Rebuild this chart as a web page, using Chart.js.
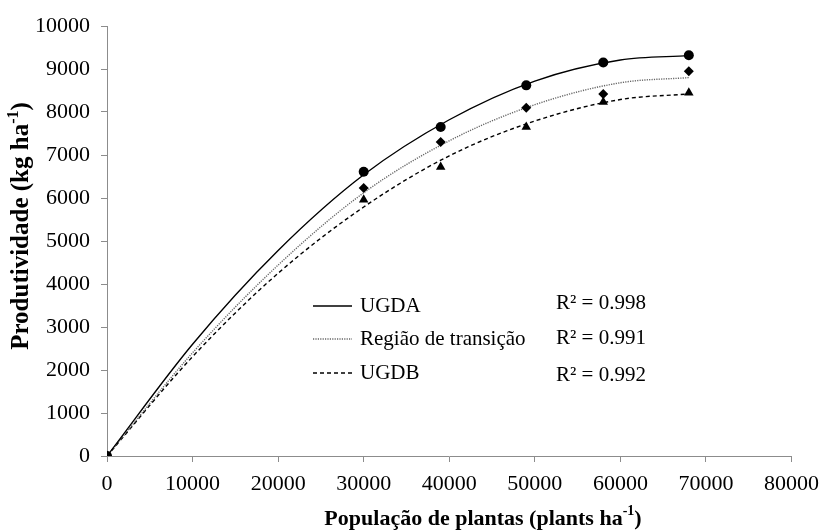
<!DOCTYPE html>
<html>
<head>
<meta charset="utf-8">
<script src="https://cdn.jsdelivr.net/npm/chart.js@4/dist/chart.umd.min.js"></script>
<style>
  html, body { margin: 0; padding: 0; background: #ffffff; }
  #wrap { width: 828px; height: 532px; }
</style>
</head>
<body>
<div id="wrap"><canvas id="c" width="828" height="532"></canvas></div>
<script>
// ---------- data ----------
const popX = [0, 30000, 39000, 49000, 58000, 68000];
const ugdaY = [0, 6610, 7650, 8620, 9150, 9320];
const transY = [0, 6230, 7300, 8100, 8420, 8950];
const ugdbY = [0, 5960, 6720, 7650, 8230, 8450];

// trend-line values
const curveX = [0, 10000, 20000, 30000, 40000, 50000, 60000, 68000];
const ugdaCurve = [0, 2600, 4780, 6540, 7820, 8720, 9210, 9310];
const transCurve = [0, 2400, 4440, 6120, 7330, 8170, 8680, 8800];
const ugdbCurve = [0, 2310, 4250, 5790, 6980, 7790, 8290, 8420];

const seriesLabels = ['UGDA', 'Região de transição', 'UGDB'];
const r2Labels = ['R² = 0.998', 'R² = 0.991', 'R² = 0.992'];

const xTickValues = [0, 10000, 20000, 30000, 40000, 50000, 60000, 70000, 80000];
const yTickValues = [0, 1000, 2000, 3000, 4000, 5000, 6000, 7000, 8000, 9000, 10000];

const xTitleParts = [{t: 'População de plantas (plants ha'}, {t: '-1', sup: true}, {t: ')'}];
const yTitleParts = [{t: 'Produtividade (kg ha'}, {t: '-1', sup: true}, {t: ')'}];

// ---------- helpers ----------
const pts = (xs, ys) => xs.map((x, i) => ({x: x, y: ys[i]}));
const FONT = "'Liberation Serif', 'Times New Roman', serif";
const AXIS_COLOR = '#8c8c8c';

function drawParts(ctx, parts, cx, cy, size, bold) {
  const w = bold ? 'bold ' : '';
  let total = 0;
  const widths = parts.map(p => {
    ctx.font = w + (p.sup ? Math.round(size * 0.62) : size) + 'px ' + FONT;
    const m = ctx.measureText(p.t).width;
    total += m;
    return m;
  });
  let x = cx - total / 2;
  ctx.textBaseline = 'middle';
  ctx.textAlign = 'left';
  parts.forEach((p, i) => {
    ctx.font = w + (p.sup ? Math.round(size * 0.62) : size) + 'px ' + FONT;
    ctx.fillText(p.t, x, p.sup ? cy - size * 0.33 : cy);
    x += widths[i];
  });
}

const decorPlugin = {
  id: 'decor',
  afterDraw(chart) {
    const ctx = chart.ctx;
    ctx.save();
    ctx.fillStyle = '#000';
    // axis titles
    drawParts(ctx, xTitleParts, 483, 519, 22, true);
    ctx.save();
    ctx.translate(22, 226);
    ctx.rotate(-Math.PI / 2);
    drawParts(ctx, yTitleParts, 0, 0, 25, true);
    ctx.restore();

    // legend inside plot
    const rowY = [306, 339, 373];
    const r2Y = [303, 338, 375];
    const styles = [
      {dash: [], color: '#000'},
      {dash: [1.2, 1.2], color: '#666'},
      {dash: [4, 3], color: '#000'}
    ];
    seriesLabels.forEach((lab, i) => {
      const ds = chart.data.datasets[i * 2 + 1];
      ctx.beginPath();
      ctx.setLineDash(styles[i].dash);
      ctx.strokeStyle = ds.borderColor;
      ctx.lineWidth = 1.3;
      ctx.moveTo(313, rowY[i]);
      ctx.lineTo(352, rowY[i]);
      ctx.stroke();
      ctx.setLineDash([]);
      ctx.font = '21px ' + FONT;
      ctx.textAlign = 'left';
      ctx.textBaseline = 'middle';
      ctx.fillStyle = '#000';
      ctx.fillText(lab, 360, rowY[i]);
      ctx.fillText(r2Labels[i], 556, r2Y[i]);
    });
    ctx.restore();
  }
};

// ---------- chart ----------
const markerDs = (label, ys, style, radius) => ({
  label: label,
  type: 'scatter',
  data: pts(popX, ys),
  showLine: false,
  pointStyle: style,
  pointRadius: radius,
  pointHoverRadius: radius,
  backgroundColor: '#000',
  borderColor: '#000',
  borderWidth: 0,
});
const curveDs = (label, ys, dash, color) => ({
  label: label + ' (ajuste)',
  type: 'scatter',
  data: pts(curveX, ys),
  showLine: true,
  pointRadius: 0,
  borderColor: color,
  borderWidth: 1.4,
  borderDash: dash,
  cubicInterpolationMode: 'monotone',
  fill: false,
});

new Chart(document.getElementById('c'), {
  type: 'scatter',
  data: {
    datasets: [
      markerDs(seriesLabels[0], ugdaY, 'circle', 5),
      curveDs(seriesLabels[0], ugdaCurve, [], '#000'),
      markerDs(seriesLabels[1], transY, 'rectRot', 5),
      curveDs(seriesLabels[1], transCurve, [1.2, 1.2], '#666'),
      markerDs(seriesLabels[2], ugdbY, 'triangle', 5.5),
      curveDs(seriesLabels[2], ugdbCurve, [4, 3], '#000'),
    ]
  },
  options: {
    responsive: false,
    animation: false,
    layout: { padding: { top: 26, right: 31, bottom: 0, left: 0 } },
    plugins: {
      legend: { display: false },
      tooltip: { enabled: false },
    },
    scales: {
      x: {
        type: 'linear',
        min: 0, max: 80000,
        afterBuildTicks: s => { s.ticks = xTickValues.map(v => ({value: v})); },
        afterFit: s => { s.height = 76; },
        grid: { display: true, drawOnChartArea: false, drawTicks: true, tickLength: 6, color: AXIS_COLOR },
        border: { display: true, color: AXIS_COLOR, width: 1 },
        ticks: { color: '#000', font: { family: FONT, size: 22 }, padding: 9, maxRotation: 0, autoSkip: false,
                 callback: v => String(v) },
      },
      y: {
        type: 'linear',
        min: 0, max: 10000,
        afterBuildTicks: s => { s.ticks = yTickValues.map(v => ({value: v})); },
        afterFit: s => { s.width = 107; },
        grid: { display: true, drawOnChartArea: false, drawTicks: true, tickLength: 6, color: AXIS_COLOR },
        border: { display: true, color: AXIS_COLOR, width: 1 },
        ticks: { color: '#000', font: { family: FONT, size: 22 }, padding: 11, autoSkip: false,
                 callback: v => String(v) },
      }
    }
  },
  plugins: [decorPlugin]
});
</script>
</body>
</html>
